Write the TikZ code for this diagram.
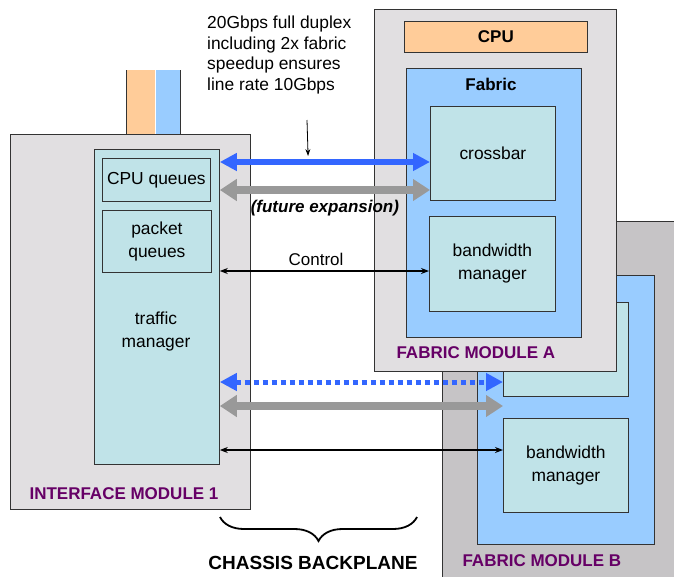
\documentclass[tikz,border=0pt]{standalone}
\usepackage{fontspec}
\setmainfont{Liberation Sans}
\usetikzlibrary{arrows.meta, positioning, decorations.pathreplacing}
\definecolor{modgray}{HTML}{E1DFE1}
\definecolor{modgraydark}{HTML}{C6C4C6}
\definecolor{qcyan}{HTML}{C0E3E8}
\definecolor{fabblue}{HTML}{99CCFF}
\definecolor{cpuorange}{HTML}{FFCC99}
\definecolor{modpurple}{HTML}{660066}
\definecolor{linkblue}{HTML}{3366FF}
\definecolor{linkgray}{HTML}{999999}
\definecolor{edgegray}{HTML}{333333}
\tikzset{
  module/.style={
    rectangle, draw=edgegray, line width=0.8pt, fill=modgray,
    anchor=north west, inner sep=0pt
  },
  block/.style={
    rectangle, draw=edgegray, line width=0.8pt, fill=qcyan,
    anchor=north west, inner sep=0pt, align=center,
    font=\fontsize{17.4}{23}\selectfont
  },
  tabbox/.style={
    rectangle, anchor=north west, inner sep=0pt, minimum height=78pt
  },
  modlabel/.style={
    anchor=west, text=modpurple, font=\fontsize{17}{20}\selectfont\bfseries
  },
  plain/.style={
    align=center, font=\fontsize{17.4}{23}\selectfont
  }
}

\begin{document}
\begin{tikzpicture}[
  x=1pt, y=-1pt,
  fatblue/.style={line width=6pt, draw=linkblue,
    {Triangle[length=17pt,width=17pt]}-{Triangle[length=17pt,width=17pt]}},
  fatgray/.style={line width=8pt, draw=linkgray,
    {Triangle[length=17pt,width=21pt]}-{Triangle[length=17pt,width=21pt]}},
  thinlink/.style={line width=1.2pt, draw=black,
    {Stealth[length=8pt,width=6pt]}-{Stealth[length=8pt,width=6pt]}}
]
\useasboundingbox (0,0) rectangle (674,576);

\node[module, fill=modgraydark, minimum width=260pt, minimum height=380pt] (fmb) at (442,221) {};
\node[block, fill=fabblue, minimum width=177pt, minimum height=269pt] (fabb) at (477,275) {};
\node[block, minimum width=125pt, minimum height=94pt] (xbarb) at (503,302) {};
\node[block, minimum width=125pt, minimum height=94pt] (bwb) at (503,418) {bandwidth\\manager};
\node[modlabel] (fmblbl) at (459,561) {FABRIC MODULE B};

\node[module, minimum width=242pt, minimum height=362pt] (fma) at (374,9) {};
\node[block, fill=cpuorange, minimum width=183pt, minimum height=31pt,
  font=\fontsize{17}{20}\selectfont\bfseries] (cpu) at (404,21) {CPU};
\node[block, fill=fabblue, minimum width=175pt, minimum height=269pt] (fab) at (406,68) {};
\node[plain, font=\fontsize{17}{20}\selectfont\bfseries] (fablbl) at (491,84) {Fabric};
\node[block, minimum width=125pt, minimum height=94pt] (xbar) at (430,106) {crossbar};
\node[block, minimum width=126pt, minimum height=95pt] (bwa) at (429,216) {bandwidth\\manager};
\node[modlabel] (fmalbl) at (393,353) {FABRIC MODULE A};

\node[tabbox, fill=cpuorange, minimum width=29pt] (tabcpu) at (126,70) {};
\node[tabbox, fill=fabblue, minimum width=25pt] (tabfab) at (tabcpu.north east) {};
\draw[edgegray, line width=0.8pt] (tabcpu.north west) -- (tabcpu.south west);
\draw[edgegray, line width=0.8pt] (tabfab.north east) -- (tabfab.south east);
\node[module, minimum width=240pt, minimum height=375pt] (im) at (10,134) {};
\node[block, minimum width=125pt, minimum height=315pt] (tm) at (94,149) {};
\node[block, minimum width=108pt, minimum height=43pt] (cpuq) at (102,158) {CPU queues};
\node[block, minimum width=109pt, minimum height=62pt] (pktq) at (102,210) {packet\\queues};
\node[plain] (tmlbl) at (156,331) {traffic\\manager};
\node[modlabel] (imlbl) at (26,494) {INTERFACE MODULE 1};

\draw[fatblue] (tm.east |- 0,162) -- (xbar.west |- 0,162) coordinate[pos=0.42] (bluemid);
\draw[fatgray] (tm.east |- 0,190) -- (xbar.west |- 0,190)
  node[midway, below=3pt, font=\fontsize{17}{20}\selectfont\bfseries\itshape] (futlbl) {(future expansion)};
\draw[thinlink] (tm.east |- 0,271) -- (bwa.west |- 0,271)
  node[pos=0.46, above=1pt, font=\fontsize{17}{20}\selectfont] (ctllbl) {Control};
\draw[fatblue, line width=5pt, dash pattern=on 5pt off 4pt] (tm.east |- 0,382) -- (xbarb.west |- 0,382);
\draw[fatgray] (tm.east |- 0,406) -- (xbarb.west |- 0,406);
\draw[thinlink] (tm.east |- 0,450) -- (bwb.west |- 0,450);

\node[plain, align=left, anchor=north west, inner sep=0pt,
  font=\fontsize{17.4}{20.5}\selectfont] (note) at (207,16)
  {20Gbps full duplex\\including 2x fabric\\speedup ensures\\line rate 10Gbps};
\coordinate (ptr) at (307,120);
\draw[line width=0.8pt, -{Stealth[length=7pt,width=5pt]}] (ptr) -- ([yshift=6pt]bluemid);

\coordinate (bpl) at (220,517);
\coordinate (bpr) at (417,517);
\draw[decorate, decoration={brace, mirror, amplitude=24pt}, line width=1.8pt] (bpl) -- (bpr);
\node[font=\fontsize{19}{20}\selectfont\bfseries] (bplbl) at (313,563) {CHASSIS BACKPLANE};
\end{tikzpicture}
\end{document}
